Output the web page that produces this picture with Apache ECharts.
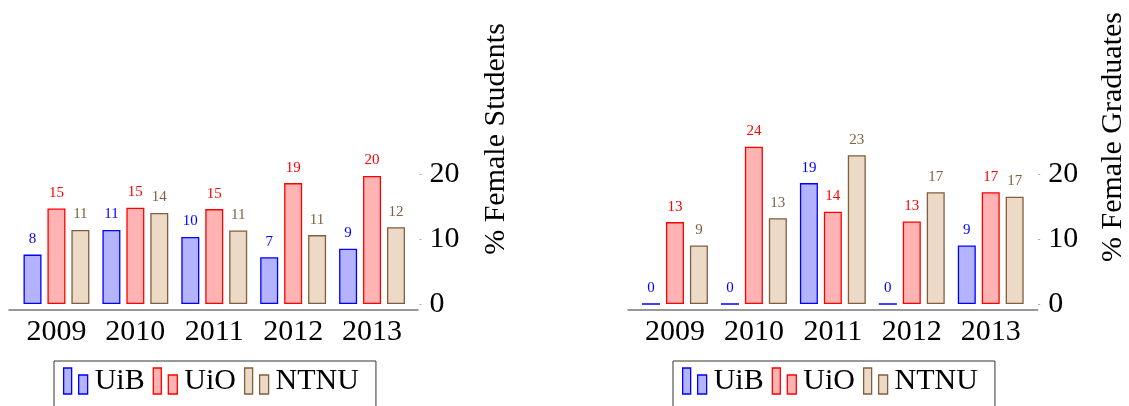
<!DOCTYPE html>
<html>
<head>
<meta charset="utf-8">
<script src="https://cdn.jsdelivr.net/npm/echarts@6/dist/echarts.min.js"></script>
<style>
html,body{margin:0;padding:0;background:#fff;}
#chart{width:1129px;height:406px;}
</style>
</head>
<body>
<div id="chart"></div>
<script>
var years = ['2009', '2010', '2011', '2012', '2013'];
var yTicks = [0, 10, 20];
var studentsUiB = [7.6, 11.4, 10.3, 7.2, 8.5];
var studentsUiO = [14.7, 14.8, 14.6, 18.6, 19.7];
var studentsNTNU = [11.4, 14.0, 11.3, 10.6, 11.8];
var gradUiB = [0, 0, 18.6, 0, 9.0];
var gradUiO = [12.6, 24.2, 14.2, 12.7, 17.2];
var gradNTNU = [9.0, 13.2, 22.9, 17.2, 16.5];
var leftTitle = '% Female Students';
var rightTitle = '% Female Graduates';

var FONT = '"Liberation Serif", "DejaVu Serif", serif';
var styles = {
  UiB: { fill: '#b3b3ff', stroke: '#0000ff', label: '#0000ff' },
  UiO: { fill: '#ffb3b3', stroke: '#ff0000', label: '#ff0000' },
  NTNU: { fill: '#ecd9c6', stroke: '#7f5f3f', label: '#7f5f3f' }
};

function barSeries(name, data, axisIndex) {
  var s = styles[name];
  return {
    type: 'bar', name: name, data: data,
    xAxisIndex: axisIndex, yAxisIndex: axisIndex,
    barWidth: 18, barGap: '33%', clip: false,
    itemStyle: { color: s.fill, borderColor: s.stroke, borderWidth: 1.3 },
    emphasis: { disabled: true },
    label: {
      show: true, position: 'top', distance: 8,
      color: s.label, fontFamily: FONT, fontSize: 15,
      formatter: function (p) { return Math.round(p.value); }
    },
    animation: false
  };
}

function catAxis(gridIndex) {
  return {
    type: 'category', gridIndex: gridIndex, data: years,
    offset: 6,
    axisLine: { show: false },
    axisTick: { show: true, alignWithLabel: true, inside: true, length: 3, lineStyle: { color: '#777' } },
    axisLabel: { color: '#000', fontFamily: FONT, fontSize: 30, margin: 7 },
    splitLine: { show: false }
  };
}
function valAxis(gridIndex) {
  return {
    type: 'value', gridIndex: gridIndex, position: 'right',
    min: yTicks[0], max: yTicks[yTicks.length - 1], interval: 10,
    offset: 8,
    axisLine: { show: false },
    axisTick: { show: true, length: 2, lineStyle: { color: '#aaa' } },
    axisLabel: { color: '#000', fontFamily: FONT, fontSize: 30, margin: 10 },
    splitLine: { show: false }
  };
}
function lineAxisX(gridIndex) {
  return {
    type: 'value', gridIndex: gridIndex, min: 0, max: 1,
    axisLine: { show: true, lineStyle: { color: '#777', width: 1.5 } },
    axisTick: { show: false }, axisLabel: { show: false }, splitLine: { show: false }
  };
}
function lineAxisY(gridIndex) {
  return { type: 'value', gridIndex: gridIndex, show: false, min: 0, max: 1 };
}

function legendFor(left) {
  return {
    left: left, top: 361, orient: 'horizontal',
    padding: [5, 17, 20, 9],
    itemGap: 8, itemWidth: 24, itemHeight: 26,
    borderColor: '#333', borderWidth: 1,
    icon: 'path://M0,0H8V26H0Z M15,7H24V26H15Z',
    itemStyle: { borderWidth: 1.3 },
    selectedMode: false,
    textStyle: { color: '#000', fontFamily: FONT, fontSize: 30, padding: [0, 0, 0, 2] },
    data: ['UiB', 'UiO', 'NTNU']
  };
}

var chart = echarts.init(document.getElementById('chart'), null, { renderer: 'canvas' });
chart.setOption({
  backgroundColor: '#fff',
  animation: false,
  grid: [
    { left: 17, right: 717.5, top: 174, bottom: 102 },
    { left: 635.5, right: 98.8, top: 174, bottom: 102 },
    { left: 9, right: 711, top: 174, bottom: 96 },
    { left: 628, right: 91.3, top: 174, bottom: 96 }
  ],
  xAxis: [catAxis(0), catAxis(1), lineAxisX(2), lineAxisX(3)],
  yAxis: [valAxis(0), valAxis(1), lineAxisY(2), lineAxisY(3)],
  legend: [legendFor(54), legendFor(673)],
  graphic: [
    { type: 'text', x: 496, y: 139, rotation: Math.PI / 2,
      style: { text: leftTitle, fontFamily: FONT, fontSize: 30, fill: '#000', align: 'center', verticalAlign: 'middle' } },
    { type: 'text', x: 1113, y: 137, rotation: Math.PI / 2,
      style: { text: rightTitle, fontFamily: FONT, fontSize: 30, fill: '#000', align: 'center', verticalAlign: 'middle' } }
  ],
  series: [
    barSeries('UiB', studentsUiB, 0),
    barSeries('UiO', studentsUiO, 0),
    barSeries('NTNU', studentsNTNU, 0),
    barSeries('UiB', gradUiB, 1),
    barSeries('UiO', gradUiO, 1),
    barSeries('NTNU', gradNTNU, 1)
  ]
});
</script>
</body>
</html>
